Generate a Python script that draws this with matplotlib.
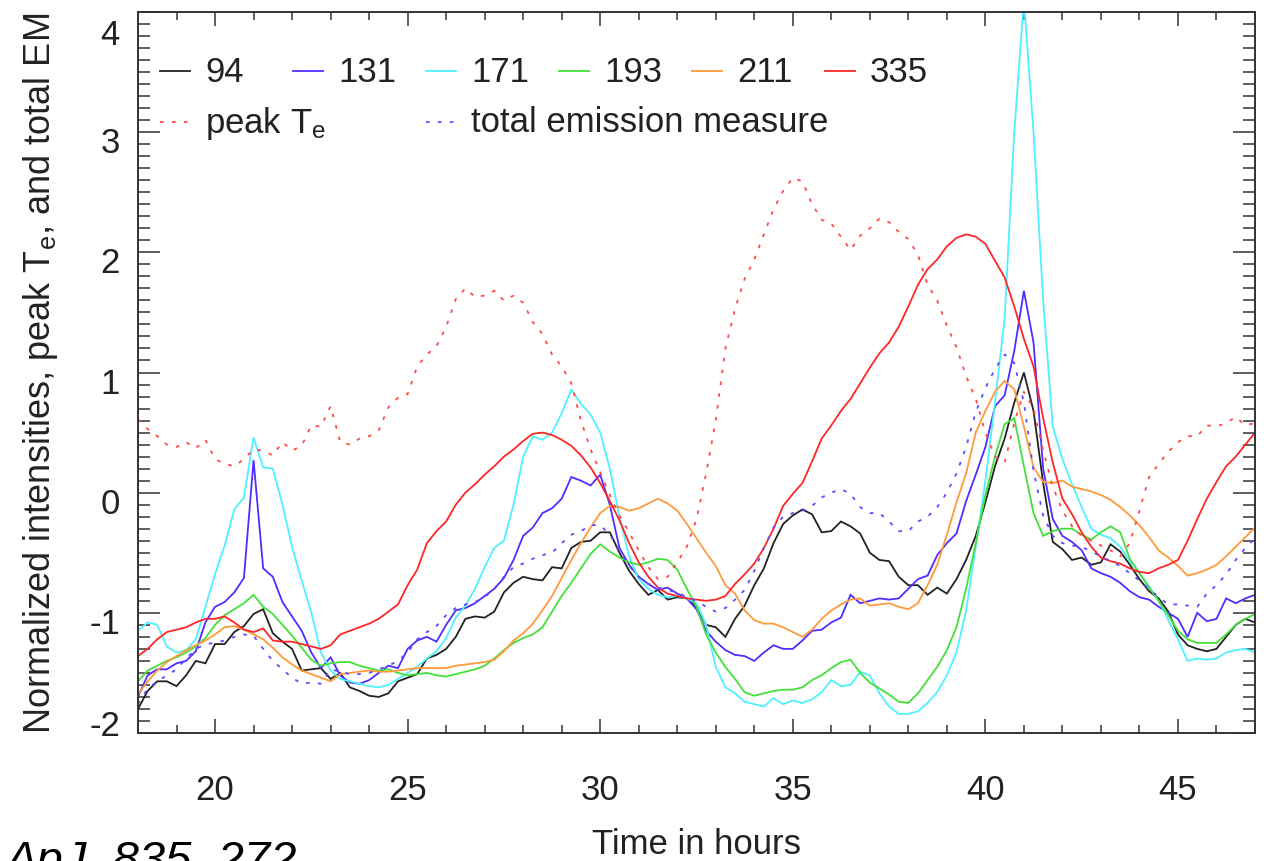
import numpy as np
import matplotlib
matplotlib.use('Agg')
import matplotlib.pyplot as plt
from matplotlib.ticker import MultipleLocator
from matplotlib.transforms import ScaledTranslation

# ---------------- data (0.25 h sampling) ----------------
hours = np.arange(18.0, 47.0 + 0.125, 0.25)

ch94 = [-1.80, -1.65, -1.57, -1.57, -1.61, -1.52, -1.40, -1.42,
        -1.26, -1.26, -1.16, -1.11, -1.01, -0.97, -1.17, -1.24,
        -1.30, -1.48, -1.47, -1.46, -1.55, -1.50, -1.62, -1.65,
        -1.69, -1.70, -1.67, -1.57, -1.54, -1.51, -1.38, -1.35,
        -1.30, -1.20, -1.05, -1.03, -1.04, -0.99, -0.83, -0.75,
        -0.70, -0.72, -0.73, -0.62, -0.63, -0.46, -0.41, -0.40,
        -0.33, -0.33, -0.50, -0.65, -0.76, -0.85, -0.81, -0.89,
        -0.87, -0.88, -0.95, -1.10, -1.12, -1.20, -1.05, -0.94,
        -0.77, -0.63, -0.42, -0.26, -0.19, -0.14, -0.18, -0.33,
        -0.32, -0.24, -0.28, -0.34, -0.50, -0.56, -0.57, -0.70,
        -0.77, -0.77, -0.85, -0.79, -0.84, -0.72, -0.56, -0.36,
        -0.08, 0.22, 0.45, 0.75, 1.00, 0.68, 0.08, -0.41,
        -0.47, -0.56, -0.54, -0.60, -0.58, -0.43, -0.49, -0.60,
        -0.72, -0.82, -0.88, -0.99, -1.18, -1.27, -1.30, -1.32,
        -1.30, -1.20, -1.10, -1.05, -1.08]

ch131 = [-1.70, -1.52, -1.47, -1.47, -1.42, -1.40, -1.32, -1.08,
         -0.95, -0.91, -0.83, -0.71, 0.27, -0.63, -0.70, -0.91,
         -1.03, -1.15, -1.33, -1.46, -1.37, -1.52, -1.58, -1.59,
         -1.56, -1.50, -1.44, -1.46, -1.30, -1.23, -1.20, -1.24,
         -1.10, -0.98, -0.96, -0.92, -0.86, -0.80, -0.71, -0.56,
         -0.36, -0.29, -0.17, -0.13, -0.05, 0.13, 0.10, 0.06,
         0.15, -0.10, -0.46, -0.60, -0.70, -0.76, -0.81, -0.79,
         -0.84, -0.88, -0.97, -1.15, -1.24, -1.31, -1.35, -1.36,
         -1.40, -1.33, -1.27, -1.30, -1.30, -1.23, -1.15, -1.14,
         -1.08, -1.04, -0.85, -0.92, -0.90, -0.88, -0.89, -0.88,
         -0.80, -0.72, -0.69, -0.52, -0.42, -0.34, -0.07, 0.15,
         0.38, 0.72, 0.81, 1.18, 1.68, 1.25, 0.20, -0.22,
         -0.36, -0.41, -0.48, -0.63, -0.67, -0.70, -0.75, -0.82,
         -0.87, -0.89, -0.95, -1.00, -1.05, -1.20, -1.00, -1.07,
         -1.05, -0.88, -0.92, -0.88, -0.85]

ch171 = [-1.15, -1.08, -1.10, -1.28, -1.33, -1.31, -1.22, -0.95,
         -0.68, -0.44, -0.14, -0.04, 0.46, 0.21, 0.20, -0.10,
         -0.45, -0.73, -1.00, -1.33, -1.48, -1.55, -1.57, -1.59,
         -1.61, -1.62, -1.60, -1.55, -1.50, -1.45, -1.38, -1.32,
         -1.21, -1.04, -0.94, -0.80, -0.62, -0.46, -0.40, -0.10,
         0.30, 0.47, 0.44, 0.50, 0.66, 0.86, 0.74, 0.65,
         0.50, 0.20, -0.20, -0.53, -0.72, -0.80, -0.85, -0.87,
         -0.86, -0.88, -0.92, -1.10, -1.45, -1.62, -1.67, -1.74,
         -1.76, -1.78, -1.71, -1.76, -1.73, -1.75, -1.72, -1.66,
         -1.56, -1.61, -1.60, -1.49, -1.52, -1.67, -1.78, -1.84,
         -1.84, -1.82, -1.75, -1.66, -1.52, -1.33, -0.98, -0.45,
         0.10, 0.75, 1.45, 3.00, 4.10, 3.00, 1.60, 0.55,
         0.28, 0.07, -0.12, -0.30, -0.35, -0.38, -0.45, -0.57,
         -0.67, -0.78, -0.90, -1.06, -1.22, -1.40, -1.38, -1.39,
         -1.38, -1.33, -1.31, -1.30, -1.33]

ch193 = [-1.57, -1.48, -1.44, -1.40, -1.37, -1.33, -1.28, -1.21,
         -1.10, -1.02, -0.97, -0.92, -0.85, -0.95, -1.01, -1.10,
         -1.19, -1.29, -1.39, -1.44, -1.42, -1.41, -1.41, -1.44,
         -1.46, -1.48, -1.47, -1.50, -1.52, -1.51, -1.50, -1.52,
         -1.53, -1.51, -1.49, -1.47, -1.44, -1.38, -1.31, -1.25,
         -1.21, -1.18, -1.12, -0.99, -0.86, -0.75, -0.63, -0.51,
         -0.43, -0.49, -0.54, -0.58, -0.60, -0.58, -0.55, -0.56,
         -0.64, -0.80, -0.95, -1.18, -1.33, -1.45, -1.55, -1.66,
         -1.69, -1.67, -1.65, -1.64, -1.64, -1.62, -1.56, -1.52,
         -1.46, -1.41, -1.39, -1.50, -1.58, -1.63, -1.68, -1.74,
         -1.75, -1.67, -1.56, -1.45, -1.31, -1.12, -0.80, -0.42,
         -0.02, 0.30, 0.57, 0.62, 0.22, -0.17, -0.36, -0.32,
         -0.30, -0.30, -0.35, -0.39, -0.33, -0.28, -0.33, -0.55,
         -0.67, -0.79, -0.90, -1.02, -1.15, -1.22, -1.25, -1.25,
         -1.25, -1.18, -1.10, -1.05, -1.01]

ch211 = [-1.68, -1.57, -1.48, -1.41, -1.36, -1.31, -1.27, -1.23,
         -1.18, -1.12, -1.11, -1.14, -1.18, -1.22, -1.29, -1.37,
         -1.43, -1.48, -1.51, -1.54, -1.57, -1.51, -1.50, -1.49,
         -1.48, -1.49, -1.49, -1.48, -1.47, -1.46, -1.46, -1.46,
         -1.46, -1.44, -1.43, -1.42, -1.41, -1.39, -1.32, -1.23,
         -1.17, -1.09, -0.98, -0.86, -0.71, -0.56, -0.42, -0.29,
         -0.17, -0.11, -0.12, -0.15, -0.13, -0.09, -0.05, -0.09,
         -0.15, -0.26, -0.38, -0.50, -0.61, -0.77, -0.84, -0.98,
         -1.06, -1.09, -1.09, -1.12, -1.16, -1.20, -1.14, -1.05,
         -0.98, -0.93, -0.89, -0.88, -0.94, -0.93, -0.92, -0.95,
         -0.97, -0.92, -0.77, -0.60, -0.35, -0.08, 0.16, 0.50,
         0.68, 0.84, 0.93, 0.86, 0.55, 0.21, 0.09, 0.08,
         0.10, 0.05, 0.03, 0.01, -0.02, -0.06, -0.12, -0.19,
         -0.27, -0.37, -0.48, -0.54, -0.61, -0.69, -0.67, -0.64,
         -0.60, -0.53, -0.45, -0.37, -0.29]

ch335 = [-1.36, -1.30, -1.22, -1.16, -1.14, -1.12, -1.08, -1.05,
         -1.05, -1.03, -1.08, -1.14, -1.16, -1.13, -1.23, -1.24,
         -1.24, -1.26, -1.28, -1.30, -1.27, -1.18, -1.15, -1.12,
         -1.09, -1.05, -0.99, -0.93, -0.77, -0.64, -0.42, -0.32,
         -0.24, -0.10, 0.00, 0.07, 0.15, 0.22, 0.30, 0.36,
         0.43, 0.49, 0.50, 0.48, 0.44, 0.39, 0.31, 0.21,
         0.08, -0.07, -0.23, -0.42, -0.58, -0.70, -0.79, -0.84,
         -0.86, -0.88, -0.89, -0.90, -0.89, -0.86, -0.76, -0.68,
         -0.59, -0.46, -0.30, -0.11, -0.01, 0.08, 0.26, 0.45,
         0.56, 0.68, 0.78, 0.91, 1.04, 1.16, 1.25, 1.38,
         1.55, 1.73, 1.86, 1.94, 2.05, 2.12, 2.15, 2.13,
         2.07, 1.93, 1.79, 1.55, 1.28, 1.05, 0.62, 0.25,
         -0.05, -0.18, -0.33, -0.45, -0.54, -0.57, -0.59, -0.63,
         -0.66, -0.67, -0.63, -0.60, -0.56, -0.40, -0.22, -0.05,
         0.09, 0.22, 0.30, 0.40, 0.50]

peak_te = [0.61, 0.53, 0.47, 0.40, 0.38, 0.42, 0.37, 0.44,
           0.28, 0.24, 0.22, 0.28, 0.36, 0.35, 0.31, 0.42,
           0.35, 0.39, 0.56, 0.55, 0.72, 0.42, 0.40, 0.45,
           0.47, 0.52, 0.71, 0.79, 0.82, 1.05, 1.15, 1.22,
           1.38, 1.61, 1.70, 1.63, 1.64, 1.68, 1.60, 1.64,
           1.58, 1.42, 1.32, 1.15, 1.05, 0.91, 0.60, 0.36,
           0.17, -0.02, -0.19, -0.33, -0.48, -0.62, -0.72, -0.70,
           -0.58, -0.45, -0.22, 0.16, 0.60, 1.20, 1.53, 1.78,
           1.94, 2.15, 2.36, 2.51, 2.62, 2.59, 2.40, 2.27,
           2.24, 2.13, 2.02, 2.14, 2.20, 2.28, 2.25, 2.17,
           2.11, 1.98, 1.73, 1.60, 1.39, 1.21, 0.97, 0.78,
           0.50, 0.30, 0.25, 0.58, 0.84, 0.70, 0.35, 0.05,
           -0.15, -0.28, -0.36, -0.40, -0.44, -0.48, -0.53, -0.42,
           -0.15, 0.13, 0.24, 0.34, 0.42, 0.47, 0.47, 0.56,
           0.55, 0.58, 0.63, 0.56, 0.58]

total_em = [-1.76, -1.63, -1.57, -1.52, -1.47, -1.38, -1.30, -1.26,
            -1.25, -1.23, -1.20, -1.18, -1.19, -1.30, -1.40, -1.47,
            -1.54, -1.59, -1.58, -1.59, -1.47, -1.49, -1.51, -1.51,
            -1.50, -1.47, -1.44, -1.40, -1.33, -1.22, -1.16, -1.11,
            -1.02, -0.96, -0.93, -0.91, -0.87, -0.80, -0.70, -0.62,
            -0.59, -0.55, -0.52, -0.50, -0.42, -0.35, -0.32, -0.27,
            -0.27, -0.35, -0.48, -0.61, -0.70, -0.76, -0.79, -0.81,
            -0.83, -0.87, -0.90, -0.95, -0.99, -0.96, -0.89, -0.81,
            -0.65, -0.46, -0.29, -0.20, -0.17, -0.15, -0.11, -0.04,
            0.00, 0.03, -0.01, -0.12, -0.17, -0.17, -0.24, -0.32,
            -0.32, -0.24, -0.20, -0.12, 0.00, 0.16, 0.38, 0.67,
            0.87, 1.03, 1.15, 1.08, 0.75, 0.18, -0.19, -0.36,
            -0.42, -0.44, -0.45, -0.49, -0.53, -0.57, -0.61, -0.67,
            -0.73, -0.80, -0.87, -0.93, -0.93, -0.94, -0.95, -0.84,
            -0.77, -0.68, -0.56, -0.46, -0.38]

channel_labels = ['94', '131', '171', '193', '211', '335']
channel_values = [ch94, ch131, ch171, ch193, ch211, ch335]
channel_colors = ['#222222', '#4f2cff', '#4ff0ff', '#44e03a', '#ff9a3c', '#ff2626']
extra_labels = ['peak T$_\\mathregular{e}$', 'total emission measure']
extra_values = [peak_te, total_em]
extra_colors = ['#ff4a4a', '#5b4dff']

x_ticks = [20, 25, 30, 35, 40, 45]
y_ticks = [-2, -1, 0, 1, 2, 3, 4]

# ---------------- figure ----------------
plt.rcParams['font.family'] = ['Liberation Sans', 'DejaVu Sans']
plt.rcParams['mathtext.fontset'] = 'custom'
plt.rcParams['mathtext.rm'] = 'Liberation Sans'
plt.rcParams['mathtext.it'] = 'Liberation Sans:italic'
plt.rcParams['axes.unicode_minus'] = False

TXT = '#222222'
AX = '#333333'
W, H = 1271, 862
fig = plt.figure(figsize=(W / 100, H / 100), dpi=100)
ax = fig.add_axes([138 / W, 1 - 734 / H, (1255 - 138) / W, (734 - 13) / H])

LW = 1.3
DOT = (0, (2.0, 4.6))
for vals, col in zip(channel_values, channel_colors):
    ax.plot(hours, vals, color=col, lw=LW, solid_joinstyle='miter')
for vals, col in zip(extra_values, extra_colors):
    ax.plot(hours, vals, color=col, lw=LW, linestyle=DOT)

ax.set_xlim(18, 47)
ax.set_ylim(-2, 4)
ax.set_xticks(x_ticks)
ax.set_yticks(y_ticks)
ax.xaxis.set_minor_locator(MultipleLocator(1))
ax.yaxis.set_minor_locator(MultipleLocator(0.1))

for s in ax.spines.values():
    s.set_linewidth(1.4)
    s.set_color(AX)

ax.tick_params(axis='both', which='both', direction='in', top=True, right=True,
               color=AX, labelcolor=TXT)
ax.tick_params(axis='x', which='major', length=10, width=1.1, pad=29, labelsize=25)
ax.tick_params(axis='x', which='minor', length=5.5, width=1.1)
ax.tick_params(axis='y', which='major', length=16, width=1.1, pad=13, labelsize=25)
ax.tick_params(axis='y', which='minor', length=8.5, width=1.1)

# IDL-like label placement (labels sit slightly below their ticks, end labels pulled inward)
for val, tk in zip(y_ticks, ax.yaxis.get_major_ticks()):
    dy = -7
    if val == 4:
        dy = -19
    elif val == -2:
        dy = 11
    tk.label1.set_transform(tk.label1.get_transform() +
                            ScaledTranslation(0, dy / 100, fig.dpi_scale_trans))

ax.set_xlabel('Time in hours', fontsize=25, color=TXT, labelpad=15)
ax.set_ylabel('Normalized intensities, peak T$_\\mathregular{e}$, and total EM',
              fontsize=26, color=TXT, labelpad=21)

# ---------------- legend (fixed-width columns as in the original) ----------------
def ax_x(px):
    return (px - 138) / (1255 - 138)

def ax_y(py):
    return (734 - py) / (734 - 13)

col_step = 133
row_y = [72, 123]
for i, (lab, col) in enumerate(zip(channel_labels, channel_colors)):
    x0 = 160 + i * col_step
    ax.plot([ax_x(x0), ax_x(x0 + 30)], [ax_y(row_y[0])] * 2, transform=ax.transAxes,
            color=col, lw=LW, clip_on=False)
    ax.text(ax_x(x0 + 45), ax_y(row_y[0]), lab, transform=ax.transAxes,
            fontsize=25, color=TXT, va='center', ha='left')
for j, (lab, col) in zip([0, 2], zip(extra_labels, extra_colors)):
    x0 = 160 + j * col_step
    ax.plot([ax_x(x0), ax_x(x0 + 30)], [ax_y(row_y[1])] * 2, transform=ax.transAxes,
            color=col, lw=LW, linestyle=DOT, clip_on=False)
    ax.text(ax_x(x0 + 45), ax_y(row_y[1]), lab, transform=ax.transAxes,
            fontsize=25, color=TXT, va='center', ha='left')

fig.text(5 / W, 1 - 874 / H, 'ApJ, 835, 272', fontsize=34, style='italic',
         color='black', ha='left', va='baseline')

fig.savefig('out.png', dpi=100)
